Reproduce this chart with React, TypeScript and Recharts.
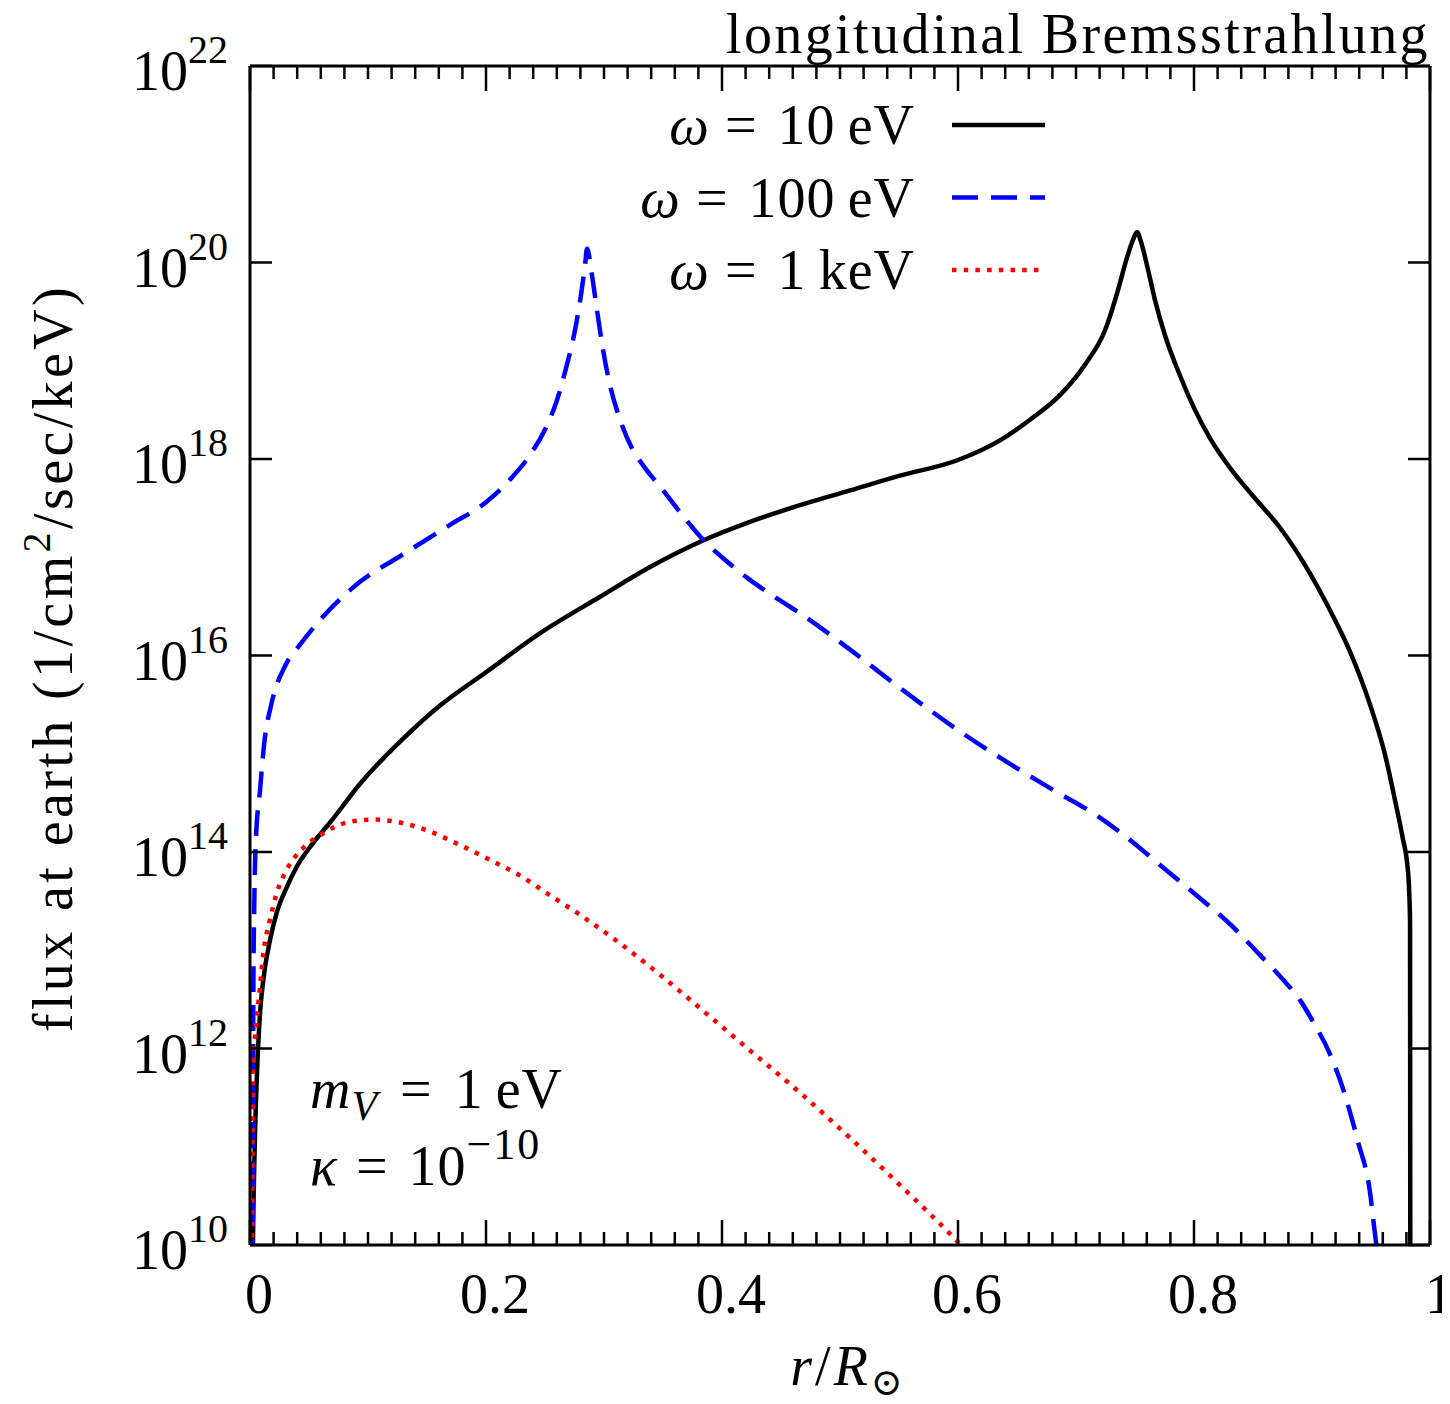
import React from 'react';
import { LineChart, Line, XAxis, YAxis, Legend, Customized } from 'recharts';

const FONT = '"Liberation Serif", "DejaVu Serif", serif';

// r / R_sun positions and log10(flux)
const r10eV = [0.0015, 0.0025, 0.004, 0.0057, 0.0085, 0.0113, 0.0169, 0.0226, 0.0311, 0.0396, 0.0508, 0.0678, 0.0958, 0.127, 0.161, 0.2, 0.25, 0.297, 0.339, 0.3839, 0.4237, 0.4661, 0.5085, 0.5508, 0.6, 0.6356, 0.661, 0.6864, 0.7076, 0.7246, 0.7356, 0.7432, 0.7483, 0.7517, 0.7551, 0.7602, 0.7669, 0.7754, 0.7881, 0.8, 0.8136, 0.8305, 0.8517, 0.8729, 0.8941, 0.9153, 0.9322, 0.9492, 0.9619, 0.9703, 0.9771, 0.9805, 0.9822, 0.9831, 0.9836];
const logFlux10eV = [8.5, 10.0, 11.0, 11.68, 12.36, 12.7, 13.1, 13.38, 13.64, 13.85, 14.05, 14.3, 14.73, 15.12, 15.49, 15.83, 16.26, 16.6, 16.9, 17.17, 17.36, 17.53, 17.68, 17.83, 17.99, 18.19, 18.4, 18.65, 18.96, 19.31, 19.72, 20.05, 20.23, 20.31, 20.21, 19.97, 19.62, 19.26, 18.85, 18.52, 18.21, 17.91, 17.6, 17.3, 16.92, 16.46, 16.04, 15.5, 14.99, 14.53, 14.13, 13.9, 13.64, 13.28, 5.0];

const r100eV = [0.0022, 0.0028, 0.0038, 0.005, 0.0085, 0.012, 0.018, 0.03, 0.0424, 0.0593, 0.0932, 0.1271, 0.1695, 0.2, 0.2203, 0.2373, 0.25, 0.2602, 0.2686, 0.2754, 0.2805, 0.2839, 0.2856, 0.2898, 0.294, 0.2992, 0.3051, 0.3136, 0.3237, 0.3347, 0.3475, 0.3644, 0.3839, 0.4, 0.4237, 0.4492, 0.4661, 0.5085, 0.5508, 0.6, 0.6356, 0.678, 0.7203, 0.746, 0.771, 0.8, 0.831, 0.856, 0.877, 0.89, 0.901, 0.915, 0.926, 0.939, 0.949, 0.953, 0.956];
const logFlux100eV = [9.0, 12.5, 13.6, 14.12, 14.63, 15.1, 15.5, 15.9, 16.11, 16.36, 16.75, 17.01, 17.33, 17.56, 17.79, 18.04, 18.3, 18.6, 18.96, 19.31, 19.67, 19.97, 20.14, 19.87, 19.52, 19.11, 18.75, 18.4, 18.11, 17.91, 17.72, 17.46, 17.18, 17.0, 16.77, 16.56, 16.43, 16.06, 15.67, 15.24, 14.96, 14.65, 14.35, 14.12, 13.87, 13.58, 13.26, 12.95, 12.68, 12.49, 12.27, 11.95, 11.6, 11.05, 10.55, 10.15, 9.85];

const r1keV = [0.0015, 0.0025, 0.0057, 0.0085, 0.0113, 0.0169, 0.0226, 0.0311, 0.045, 0.062, 0.082, 0.104, 0.127, 0.15, 0.178, 0.2, 0.2288, 0.2542, 0.2797, 0.3136, 0.3475, 0.3814, 0.4237, 0.4661, 0.5085, 0.5508, 0.6, 0.6102];
const logFlux1keV = [9.0, 11.75, 12.29, 12.63, 12.97, 13.31, 13.58, 13.82, 14.04, 14.19, 14.3, 14.33, 14.3, 14.22, 14.07, 13.94, 13.76, 13.56, 13.36, 13.07, 12.75, 12.41, 11.98, 11.55, 11.09, 10.61, 10.03, 9.9];

const seriesNames = ['10\u2009eV', '100\u2009eV', '1\u2009keV'];

const xMajorTicks = [0, 0.2, 0.4, 0.6, 0.8, 1];
const xTickLabels = ['0', '0.2', '0.4', '0.6', '0.8', '1'];
const xMinorStep = 0.02;
const yTickExponents = [10, 12, 14, 16, 18, 20, 22];

const build = (rs: number[], logs: number[]) => rs.map((r, i) => ({ r, f: Math.pow(10, logs[i]) }));
const data10eV = build(r10eV, logFlux10eV);
const data100eV = build(r100eV, logFlux100eV);
const data1keV = build(r1keV, logFlux1keV);

const xAllTicks = Array.from({ length: Math.round(1 / xMinorStep) + 1 }, (_, i) => +(i * xMinorStep).toFixed(4));
const yTicks = yTickExponents.map((e) => Math.pow(10, e));

const seriesStyles = [
  { stroke: '#000000', width: 4.5, dash: undefined as string | undefined },
  { stroke: '#0000ff', width: 4.5, dash: '26 13' },
  { stroke: '#ff0000', width: 4.5, dash: '4.5 7.2' },
];

const W = 1442;
const H = 1396;
const FS = 56;

const majorIndex = (v: number) => xMajorTicks.findIndex((t) => Math.abs(t - v) < 1e-6);

const BottomTick = (props: any) => {
  const { x, y, payload } = props;
  const idx = majorIndex(payload.value);
  const major = idx >= 0;
  return (
    <g>
      <line x1={x} x2={x} y1={y} y2={y - (major ? 25 : 13)} stroke="#000" strokeWidth={2.5} />
      {major && (
        <text x={x + 9} y={y + 68} textAnchor="middle" fontFamily={FONT} fontSize={FS} fill="#000">
          {xTickLabels[idx]}
        </text>
      )}
    </g>
  );
};

const TopTick = (props: any) => {
  const { x, y, payload } = props;
  const major = majorIndex(payload.value) >= 0;
  return <line x1={x} x2={x} y1={y} y2={y + (major ? 25 : 13)} stroke="#000" strokeWidth={2.5} />;
};

const LeftTick = (props: any) => {
  const { x, y, payload } = props;
  const e = Math.round(Math.log10(payload.value));
  return (
    <g>
      <line x1={x} x2={x + 22} y1={y} y2={y} stroke="#000" strokeWidth={2.5} />
      <text x={x - 22} y={y + 24} textAnchor="end" fontFamily={FONT} fontSize={FS} fill="#000">
        10
        <tspan dy={-27} fontSize={40}>{e}</tspan>
      </text>
    </g>
  );
};

const RightTick = (props: any) => {
  const { x, y } = props;
  return <line x1={x} x2={x - 22} y1={y} y2={y} stroke="#000" strokeWidth={2.5} />;
};

const renderLegend = (props: any) => {
  const payload = props.payload || [];
  const rows = seriesNames.map((name) => payload.find((p: any) => p.value === name)).filter(Boolean);
  return (
    <svg width={560} height={230} style={{ overflow: 'visible', display: 'block' }}>
      {rows.map((p: any, i: number) => {
        const cy = 37 + i * 72.5;
        const s = seriesStyles[seriesNames.indexOf(p.value)];
        return (
          <g key={i}>
            <text x={407} y={cy + 19} textAnchor="end" fontFamily={FONT} fontSize={FS} fill="#000" letterSpacing={1}>
              <tspan fontStyle="italic">ω</tspan>
              <tspan dx={15}>=</tspan>
              <tspan dx={20}>{p.value}</tspan>
            </text>
            <line x1={444} x2={537} y1={cy} y2={cy} stroke={s.stroke} strokeWidth={s.width} strokeDasharray={s.dash} />
          </g>
        );
      })}
    </svg>
  );
};

const Annotations = () => (
  <g fontFamily={FONT} fill="#000">
    <text x={1422} y={45} textAnchor="end" fontSize={FS} letterSpacing={2.4}>longitudinal Bremsstrahlung</text>
    <text transform="translate(64,650) rotate(-90)" textAnchor="middle" fontSize={FS} letterSpacing={3.4}>
      flux at earth (1/cm
      <tspan dy={-22} fontSize={40}>2</tspan>
      <tspan dy={22}>/sec/keV)</tspan>
    </text>
    <text x={840} y={1377} textAnchor="middle" fontSize={FS} letterSpacing={3}>
      <tspan fontStyle="italic">r</tspan>/<tspan fontStyle="italic">R</tspan>
      <tspan dy={10} fontSize={38}>⊙</tspan>
    </text>
    <text x={302} y={1100} fontSize={FS} letterSpacing={1}>
      <tspan fontStyle="italic">m</tspan>
      <tspan dy={12} fontSize={42} fontStyle="italic">V</tspan>
      <tspan dy={-12} dx={22}>=</tspan>
      <tspan dx={22}>1</tspan>
      <tspan dx={12}>eV</tspan>
    </text>
    <text x={302} y={1177} fontSize={FS} letterSpacing={1}>
      <tspan fontStyle="italic">κ</tspan>
      <tspan dx={18}>=</tspan>
      <tspan dx={20}>10</tspan>
      <tspan dy={-26} fontSize={44} letterSpacing={2}>−10</tspan>
    </text>
  </g>
);

export default function App() {
  return (
    <div style={{ width: W, height: 1388, position: 'relative', background: '#fff', overflow: 'visible' }}>
      <LineChart width={W} height={H} margin={{ top: 57, right: 19, left: 241, bottom: 158 }}>
        <XAxis
          xAxisId="b"
          type="number"
          dataKey="r"
          domain={[0, 1]}
          allowDataOverflow
          ticks={xAllTicks}
          interval={0}
          height={1}
          tickSize={0}
          tickMargin={0}
          tickLine={false}
          tick={<BottomTick />}
          axisLine={{ stroke: '#000', strokeWidth: 3 }}
        />
        <XAxis
          xAxisId="t"
          orientation="top"
          type="number"
          dataKey="r"
          domain={[0, 1]}
          allowDataOverflow
          ticks={xAllTicks}
          interval={0}
          height={1}
          tickSize={0}
          tickMargin={0}
          tickLine={false}
          tick={<TopTick />}
          axisLine={{ stroke: '#000', strokeWidth: 3 }}
        />
        <YAxis
          yAxisId="l"
          type="number"
          scale="log"
          domain={[1e10, 1e22]}
          allowDataOverflow
          ticks={yTicks}
          interval={0}
          width={1}
          tickSize={0}
          tickMargin={0}
          tickLine={false}
          tick={<LeftTick />}
          axisLine={{ stroke: '#000', strokeWidth: 3 }}
        />
        <YAxis
          yAxisId="r"
          orientation="right"
          type="number"
          scale="log"
          domain={[1e10, 1e22]}
          allowDataOverflow
          ticks={yTicks}
          interval={0}
          width={1}
          tickSize={0}
          tickMargin={0}
          tickLine={false}
          tick={<RightTick />}
          axisLine={{ stroke: '#000', strokeWidth: 3 }}
        />
        <Legend
          layout="vertical"
          verticalAlign="middle"
          align="center"
          content={renderLegend}
          wrapperStyle={{ position: 'absolute', left: 500, top: 80, width: 560, height: 230 }}
        />
        <Line
          xAxisId="b"
          yAxisId="l"
          data={data10eV}
          dataKey="f"
          name={seriesNames[0]}
          type="monotoneX"
          stroke={seriesStyles[0].stroke}
          strokeWidth={seriesStyles[0].width}
          dot={false}
          activeDot={false}
          isAnimationActive={false}
        />
        <Line
          xAxisId="b"
          yAxisId="l"
          data={data100eV}
          dataKey="f"
          name={seriesNames[1]}
          type="monotoneX"
          stroke={seriesStyles[1].stroke}
          strokeWidth={seriesStyles[1].width}
          strokeDasharray={seriesStyles[1].dash}
          dot={false}
          activeDot={false}
          isAnimationActive={false}
        />
        <Line
          xAxisId="b"
          yAxisId="l"
          data={data1keV}
          dataKey="f"
          name={seriesNames[2]}
          type="monotoneX"
          stroke={seriesStyles[2].stroke}
          strokeWidth={seriesStyles[2].width}
          strokeDasharray={seriesStyles[2].dash}
          dot={false}
          activeDot={false}
          isAnimationActive={false}
        />
        <Customized component={Annotations} />
      </LineChart>
    </div>
  );
}
